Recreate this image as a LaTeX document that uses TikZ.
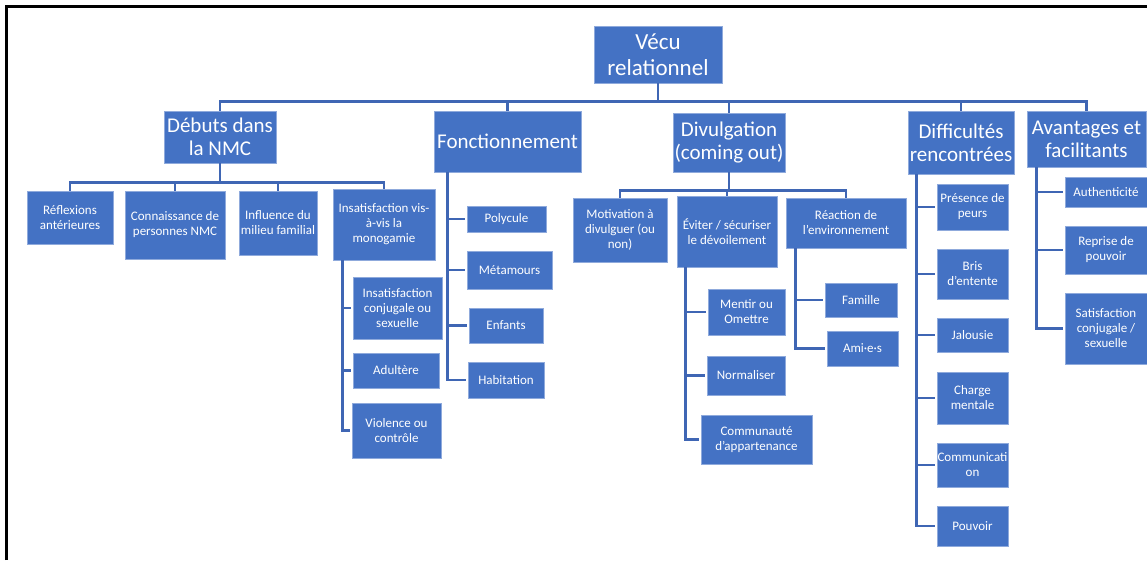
\documentclass[tikz,border=0pt]{standalone}
\usepackage{fontspec}
\setmainfont{Carlito}
\definecolor{boxblue}{HTML}{4472C4}
\definecolor{boxedge}{HTML}{8FAADC}
\definecolor{linkblue}{HTML}{3F66B4}
\begin{document}
\begin{tikzpicture}[x=1pt,y=-1pt,
  box/.style={fill=boxblue, draw=boxedge, line width=0.8pt, text=white,
              align=center, inner sep=0pt},
  sz/.style 2 args={minimum width=#1pt, minimum height=#2pt},
  top/.style={box, font=\fontsize{23}{26}\selectfont},
  head/.style={box, font=\fontsize{21}{23}\selectfont},
  leaf/.style={box, font=\fontsize{13}{15}\selectfont},
  conn/.style={draw=linkblue, line width=2.4pt},
  tick/.style={conn, shorten >=1.5pt}]
\useasboundingbox (0,0) rectangle (1147,560);

% frame
\draw[line width=3pt] (6,560) -- (6,6) -- (1147,6);

% root and main themes
\node[top, sz={128}{57}] (root) at (658,54.5) {Vécu\\relationnel};
\node[head, sz={112}{52}] (deb)  at (220,137)    {Débuts dans\\la NMC};
\node[head, sz={147}{61}] (fonc) at (507.5,141.5) {Fonctionnement};
\node[head, sz={112}{59}] (divu) at (729,142.5)  {Divulgation\\(coming out)};
\node[head, sz={106}{63}] (diff) at (961,142.5)  {Difficultés\\rencontrées};
\node[head, sz={119}{56}] (avan) at (1086.5,139) {Avantages et\\facilitants};

\foreach \c in {deb,fonc,divu,diff,avan}
  \draw[conn] (root.south) -- ++(0,18) -| (\c.north);

% Débuts dans la NMC
\node[leaf, sz={86}{53}]  (refl) at (70,217.5)  {Réflexions\\antérieures};
\node[leaf, sz={100}{68}] (conn) at (175,225)   {Connaissance de\\personnes NMC};
\node[leaf, sz={78}{64}]  (infl) at (278,223)   {Influence du\\milieu familial};
\node[leaf, sz={102}{71}] (insm) at (384,224.5) {Insatisfaction vis-\\à-vis la\\monogamie};
\foreach \c in {refl,conn,infl,insm}
  \draw[conn] (deb.south) -- ++(0,19) -| (\c.north);

\node[leaf, sz={89}{62}] (icos) at (397.5,308) {Insatisfaction\\conjugale ou\\sexuelle};
\node[leaf, sz={86}{35}] (adul) at (396,370.5) {Adultère};
\node[leaf, sz={89}{55}] (viol) at (396.5,430.5) {Violence ou\\contrôle};
\foreach \c in {icos,adul,viol}
  \draw[tick] ([xshift=10pt]insm.south west) |- (\c.west);

% Fonctionnement
\node[leaf, sz={79}{26}] (poly) at (506.5,219) {Polycule};
\node[leaf, sz={85}{38}] (meta) at (509.5,270) {Métamours};
\node[leaf, sz={74}{35}] (enf)  at (506,325.5) {Enfants};
\node[leaf, sz={76}{36}] (habi) at (506,380)   {Habitation};
\foreach \c in {poly,meta,enf,habi}
  \draw[tick] ([xshift=14pt]fonc.south west) |- (\c.west);

% Divulgation
\node[leaf, sz={94}{64}]  (moti) at (620,230)   {Motivation à\\divulguer (ou\\non)};
\node[leaf, sz={100}{71}] (evit) at (727,231.5) {Éviter / sécuriser\\le dévoilement};
\node[leaf, sz={120}{50}] (reac) at (846,223)   {Réaction de\\l'environnement};
\foreach \c in {moti,evit,reac}
  \draw[conn] (divu.south) -- ++(0,18) -| (\c.north);

\node[leaf, sz={77}{46}]  (ment) at (746.5,312)   {Mentir ou\\Omettre};
\node[leaf, sz={78}{39}]  (norm) at (746,375.5)   {Normaliser};
\node[leaf, sz={111}{49}] (comm) at (756.5,439.5) {Communauté\\d'appartenance};
\foreach \c in {ment,norm,comm}
  \draw[tick] ([xshift=9pt]evit.south west) |- (\c.west);

\node[leaf, sz={72}{34}] (fami) at (861,300)   {Famille};
\node[leaf, sz={71}{35}] (amis) at (862.5,348.5) {Ami·e·s};
\foreach \c in {fami,amis}
  \draw[tick] ([xshift=10pt]reac.south west) |- (\c.west);

% Difficultés rencontrées
\node[leaf, sz={71}{46}] (peur) at (972.5,207) {Présence de\\peurs};
\node[leaf, sz={71}{50}] (bris) at (972.5,274) {Bris\\d'entente};
\node[leaf, sz={71}{34}] (jalo) at (972.5,335) {Jalousie};
\node[leaf, sz={71}{52}] (char) at (972.5,398) {Charge\\mentale};
\node[leaf, sz={71}{44}] (comu) at (972.5,465) {Communicati\\on};
\node[leaf, sz={71}{40}] (pouv) at (972.5,526) {Pouvoir};
\foreach \c in {peur,bris,jalo,char,comu,pouv}
  \draw[tick] ([xshift=9pt]diff.south west) |- (\c.west);

% Avantages et facilitants
\node[leaf, sz={82}{30}] (auth) at (1106,192)   {Authenticité};
\node[leaf, sz={82}{48}] (repr) at (1106,250)   {Reprise de\\pouvoir};
\node[leaf, sz={82}{71}] (sati) at (1106,328.5) {Satisfaction\\conjugale /\\sexuelle};
\foreach \c in {auth,repr,sati}
  \draw[tick] ([xshift=10pt]avan.south west) |- (\c.west);
\end{tikzpicture}
\end{document}
